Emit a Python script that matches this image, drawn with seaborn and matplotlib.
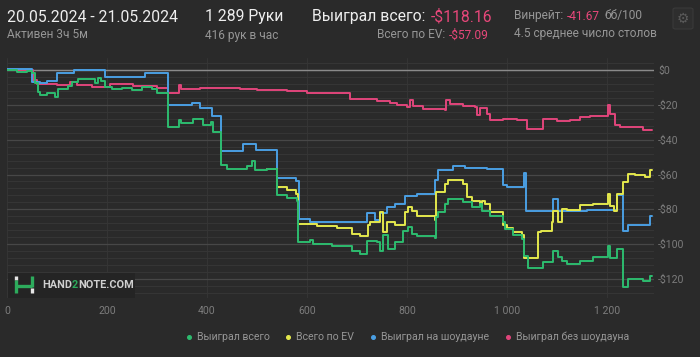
import matplotlib
matplotlib.use('Agg')
import matplotlib.pyplot as plt
import pandas as pd
import seaborn as sns
from matplotlib.lines import Line2D
from matplotlib.patches import Rectangle, FancyBboxPatch
from matplotlib.ticker import MultipleLocator, FuncFormatter

# hand number where the value changes -> new value ($), drawn as steps
green_hands = [0, 20, 40, 50, 56, 62, 66, 80, 96, 102, 122, 130, 142, 176, 182, 188, 196, 210, 230, 250,
               270, 290, 300, 322, 344, 348, 372, 392, 408, 412, 428, 440, 480, 490, 496, 520, 540, 560,
               580, 582, 606, 612, 650, 690, 706, 720, 740, 746, 752, 762, 776, 792, 802, 810, 820, 856,
               858, 862, 876, 882, 912, 930, 946, 950, 966, 992, 996, 1012, 1030, 1034, 1042, 1072, 1092,
               1102, 1110, 1120, 1146, 1172, 1202, 1206, 1220, 1232, 1242, 1272, 1286, 1289]
green_vals = [0, -0.8, -0.3, -1.5, -7.5, -12.5, -14.4, -13.4, -15.7, -11.1, -9.2, -6.7, -4.8, -7.3, -4.4,
              -6.5, -9.6, -10.6, -10.0, -11.2, -9.8, -10.8, -13.0, -32.7, -28.8, -30.6, -27.9, -31.7, -30.0,
              -35.5, -54.8, -56.7, -55.0, -52.3, -57.6, -56.7, -72.0, -73.5, -75.0, -99.0, -97.5, -100.0,
              -101.0, -103.7, -105.6, -98.0, -99.0, -103.7, -95.0, -103.0, -99.0, -92.2, -90.3, -94.0,
              -95.5, -96.5, -84.5, -81.6, -76.8, -74.0, -76.0, -78.8, -77.0, -80.7, -84.0, -87.4, -91.2,
              -95.0, -97.0, -107.0, -113.8, -110.5, -103.7, -107.6, -109.5, -111.4, -109.5, -107.6, -100.9,
              -108.0, -102.8, -124.9, -120.0, -121.0, -118.5, -118.5]

yellow_hands = [520, 540, 560, 578, 582, 620, 660, 690, 706, 722, 726, 746, 752, 760, 776, 796, 802, 810,
                820, 856, 858, 876, 882, 912, 920, 930, 946, 950, 956, 966, 992, 1000, 1012, 1030, 1034,
                1062, 1068, 1090, 1092, 1102, 1110, 1120, 1146, 1172, 1202, 1206, 1214, 1220, 1232, 1242,
                1256, 1276, 1286, 1289]
yellow_vals = [-56.7, -67.2, -69.0, -71.0, -88.4, -89.5, -90.5, -94.0, -95.6, -89.3, -87.4, -81.6, -93.2,
               -87.4, -89.3, -81.6, -78.8, -81.0, -84.0, -86.0, -70.0, -65.3, -63.4, -65.3, -73.0, -75.0,
               -78.0, -75.5, -77.0, -81.6, -89.3, -91.0, -93.2, -94.5, -108.0, -93.2, -92.2, -87.4, -80.7,
               -87.4, -80.0, -80.3, -77.8, -76.8, -71.0, -78.0, -80.7, -71.0, -64.4, -59.5, -60.5, -61.5,
               -57.6, -57.6]

blue_hands = [0, 50, 66, 80, 100, 134, 196, 276, 322, 370, 386, 410, 428, 472, 498, 540, 578, 584, 606,
              720, 736, 746, 760, 776, 796, 820, 856, 862, 892, 916, 960, 992, 1000, 1034, 1038, 1092, 1102,
              1160, 1220, 1232, 1242, 1286, 1289]
blue_vals = [0.4, -6.7, -7.5, -6.1, -1.9, 0.3, -3.8, -1.4, -20.0, -18.8, -21.9, -26.5, -46.5, -42.7,
             -46.1, -62.0, -64.0, -85.3, -87.4, -82.2, -86.0, -82.0, -78.8, -77.2, -72.6, -71.0, -63.4,
             -57.6, -55.2, -56.3, -57.0, -66.3, -67.2, -59.4, -81.0, -74.0, -81.0, -80.5, -72.0, -92.6,
             -89.3, -84.0, -84.0]

pink_hands = [0, 52, 60, 72, 100, 126, 140, 170, 206, 252, 300, 322, 344, 348, 386, 420, 466, 500, 560,
              600, 686, 706, 740, 766, 780, 800, 806, 812, 832, 876, 878, 886, 912, 936, 940, 946, 960,
              966, 992, 1020, 1040, 1072, 1100, 1126, 1146, 1166, 1202, 1206, 1216, 1226, 1272, 1289]
pink_vals = [0, -5.8, -8.0, -7.7, -8.6, -7.0, -8.5, -9.5, -7.7, -9.0, -10.2, -13.4, -8.6, -10.6, -10.0,
             -10.5, -11.0, -11.5, -12.0, -12.9, -16.3, -16.8, -17.5, -18.6, -20.2, -21.1, -17.3, -20.5,
             -22.5, -23.0, -17.3, -19.2, -20.5, -21.3, -26.0, -22.0, -25.0, -28.8, -28.0, -28.8, -33.6,
             -27.9, -29.0, -28.5, -26.9, -26.3, -20.2, -25.0, -31.7, -32.7, -34.6, -34.6]

series_labels = ['Выиграл всего', 'Всего по EV', 'Выиграл на шоудауне', 'Выиграл без шоудауна']
series_colors = ['#2dbb6e', '#e4e84c', '#4a9fe3', '#e0457b']

bg = '#2a2a2a'
grey = '#969696'
white = '#eeeeee'
red = '#e8477a'

sns.set_theme(style='dark', rc={'axes.facecolor': bg, 'figure.facecolor': bg})
plt.rcParams['font.family'] = ['Roboto', 'DejaVu Sans']

W, H = 700, 357
fig = plt.figure(figsize=(W / 100, H / 100), dpi=100)


def fx(x):
    return x / W


def fy(y):
    return 1 - y / H


ax = fig.add_axes([fx(7), fy(298), 647 / W, 240 / H])
ax.set_facecolor(bg)

# grid: fine lines every $4, brighter every $20, light zero line
ax.yaxis.set_major_locator(MultipleLocator(20))
ax.yaxis.set_minor_locator(MultipleLocator(4))
ax.xaxis.set_major_locator(MultipleLocator(200))
ax.grid(which='minor', axis='y', color='#363636', lw=0.7)
ax.grid(which='major', axis='y', color='#474747', lw=0.9)
ax.grid(which='major', axis='x', color='#343434', lw=0.8)
ax.axhline(0, color='#8a8a8a', lw=1.0, zorder=1)

order = [3, 2, 1, 0]
data = [(green_hands, green_vals), (yellow_hands, yellow_vals), (blue_hands, blue_vals), (pink_hands, pink_vals)]
for i in order:
    df = pd.DataFrame({'hand': data[i][0], 'value': data[i][1]})
    sns.lineplot(data=df, x='hand', y='value', color=series_colors[i], lw=1.4,
                 drawstyle='steps-post', estimator=None, sort=False, ax=ax, zorder=3 + (3 - i))

ax.set_xlim(0, 1294)
ax.set_ylim(-131, 7)
ax.set_xlabel('')
ax.set_ylabel('')
for s in ax.spines.values():
    s.set_visible(False)
ax.yaxis.tick_right()
ax.tick_params(axis='both', which='both', length=0, colors='#7c7c7c', labelsize=7.6)
ax.tick_params(axis='x', pad=6)
ax.tick_params(axis='y', pad=3)
ax.xaxis.set_major_formatter(FuncFormatter(lambda v, p: f'{int(v):,}'.replace(',', ' ')))
ax.yaxis.set_major_formatter(FuncFormatter(lambda v, p: '$0' if v == 0 else f'-${abs(int(v))}'))

# header texts
renderer = fig.canvas.get_renderer()


def seq_text(x, y, parts, size, weight='normal', ha='left', gap=0):
    items = []
    for s, c in parts:
        t = fig.text(fx(x), fy(y), s, color=c, fontsize=size, fontweight=weight, va='center', ha='left')
        items.append(t)
    widths = [t.get_window_extent(renderer).width for t in items]
    total = sum(widths) + gap * (len(items) - 1)
    start = x if ha == 'left' else x - total
    for t, w in zip(items, widths):
        t.set_x(fx(start))
        start += w + gap
    return items


seq_text(7, 17, [('20.05.2024 - 21.05.2024', white)], 11.3)
seq_text(7, 35, [('Активен 3ч 5м', grey)], 8.6)
seq_text(205, 17, [('1 289 Руки', white)], 11.3)
seq_text(205, 35, [('416 рук в час', grey)], 8.6)
seq_text(312, 17, [('Выиграл всего:', white), ('-$118.16', red)], 11.3, gap=5)
seq_text(489, 35, [('Всего по EV:', grey), ('-$57.09', red)], 8.6, ha='right', gap=4)
seq_text(514, 16, [('Винрейт:', grey), ('-41.67', red), ('бб/100', grey)], 8.6, gap=4)
seq_text(514, 34, [('4.5 среднее число столов', grey)], 8.6)

# settings button
fig.add_artist(FancyBboxPatch((fx(673), fy(29)), 20 / W, 21 / H, boxstyle='round,pad=0,rounding_size=0.004',
                              transform=fig.transFigure, fc='#2e2e2e', ec='#3a3a3a', lw=0.8))
fig.text(fx(683), fy(18.5), '\u2699', color='#5a5a5a', fontsize=10, ha='center', va='center',
         family=['DejaVu Sans'])

# watermark
fig.add_artist(Rectangle((fx(8), fy(298)), 127 / W, 25 / H, transform=fig.transFigure,
                         fc='#242424', ec='none', zorder=5))
logo_green = '#2dab5c'
for xs, ys, c in [([16, 16], [276, 280], '#e6e6e6'), ([16, 16], [280, 293], logo_green),
                  ([16, 32], [286, 286], logo_green), ([32, 32], [276, 287], logo_green),
                  ([32, 32], [288, 293], '#e6e6e6')]:
    fig.add_artist(Line2D([fx(v) for v in xs], [fy(v) for v in ys], color=c, lw=2.4,
                          transform=fig.transFigure, zorder=6, solid_capstyle='butt'))
for t in seq_text(42, 285.5, [('HAND', '#cfcfcf'), ('2', logo_green), ('NOTE.COM', '#cfcfcf')], 7.8, 'bold'):
    t.set_zorder(6)

# legend
handles = [Line2D([], [], marker='o', ls='', color=c, markersize=2.6) for c in series_colors]
leg = fig.legend(handles, series_labels, loc='center', bbox_to_anchor=(fx(408), fy(337)), ncol=4,
                 frameon=False, fontsize=7.6, labelcolor=grey, handlelength=0.4, handletextpad=0.55,
                 columnspacing=1.6)

fig.savefig('out.png', dpi=100, facecolor=bg)
